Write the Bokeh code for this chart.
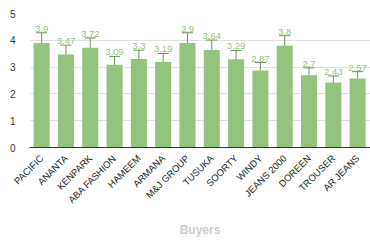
import numpy as np
from bokeh.plotting import figure
from bokeh.models import Range1d, FixedTicker, ColumnDataSource, Whisker, TeeHead, Title
from bokeh.core.properties import value
from bokeh.embed import file_html
from bokeh.resources import INLINE

buyers = ["PACIFIC", "ANANTA", "KENPARK", "ABA FASHION", "HAMEEM", "ARMANA", "M&J GROUP",
          "TUSUKA", "SOORTY", "WINDY", "JEANS 2000", "DOREEN", "TROUSER", "AR JEANS"]
scores = [3.9, 3.47, 3.72, 3.09, 3.3, 3.19, 3.9, 3.64, 3.29, 2.87, 3.8, 2.7, 2.43, 2.57]
errors = [0.38, 0.35, 0.37, 0.31, 0.33, 0.32, 0.38, 0.37, 0.33, 0.30, 0.37, 0.27, 0.24, 0.26]
y_ticks = [0, 1, 2, 3, 4, 5]

x = list(range(len(buyers)))
src = ColumnDataSource(dict(
    x=x, y=scores,
    upper=[s + e for s, e in zip(scores, errors)],
    lower=[s - e for s, e in zip(scores, errors)],
    label=[f"{s:g}" for s in scores],
))

FONT = "Liberation Sans"
p = figure(width=370, height=247, output_backend="svg", toolbar_location=None,
           x_range=Range1d(-0.5, 13.53), y_range=Range1d(0, 5),
           min_border_left=29, min_border_right=0, min_border_top=13, min_border_bottom=100)
p.outline_line_color = None
p.background_fill_color = "white"

p.vbar(x="x", top="y", bottom=0, width=0.66, source=src, fill_color="#93c47d", line_color=None)

w = Whisker(base="x", upper="upper", lower="lower", source=src,
            line_color="#5e7f50", line_width=1, line_alpha=0.9,
            upper_head=TeeHead(size=11, line_color="#5e7f50", line_width=1, line_alpha=0.9),
            lower_head=TeeHead(size=11, line_color="#5e7f50", line_width=1, line_alpha=0.9))
p.add_layout(w)

p.text(x="x", y="upper", text="label", source=src, text_align="center", text_baseline="bottom",
       y_offset=-1, text_font=value(FONT), text_font_size="9.5px", text_color="#93c47d")

p.xgrid.visible = False
p.ygrid.grid_line_color = "#e0e0e0"
p.ygrid.ticker = FixedTicker(ticks=y_ticks)

p.yaxis.ticker = FixedTicker(ticks=y_ticks)
p.yaxis.axis_line_color = None
p.yaxis.major_tick_line_color = None
p.yaxis.minor_tick_line_color = None
p.yaxis.major_label_standoff = 8
p.yaxis.major_label_text_font = FONT
p.yaxis.major_label_text_font_size = "10px"
p.yaxis.major_label_text_color = "#333333"

p.xaxis.ticker = FixedTicker(ticks=x)
p.xaxis.major_label_overrides = {i: b for i, b in enumerate(buyers)}
p.xaxis.major_label_orientation = np.pi / 4
p.xaxis.axis_line_color = "#333333"
p.xaxis.major_tick_line_color = None
p.xaxis.minor_tick_line_color = None
p.xaxis.major_label_standoff = 3
p.xaxis.major_label_text_font = FONT
p.xaxis.major_label_text_font_size = "9.5px"
p.xaxis.major_label_text_color = "#222222"

p.add_layout(Title(text="Buyers", align="center", offset=12, standoff=17,
                   text_font=FONT, text_font_size="12px", text_font_style="bold",
                   text_color="#cccccc"), "below")

open("out.html", "w").write(file_html(p, INLINE))
